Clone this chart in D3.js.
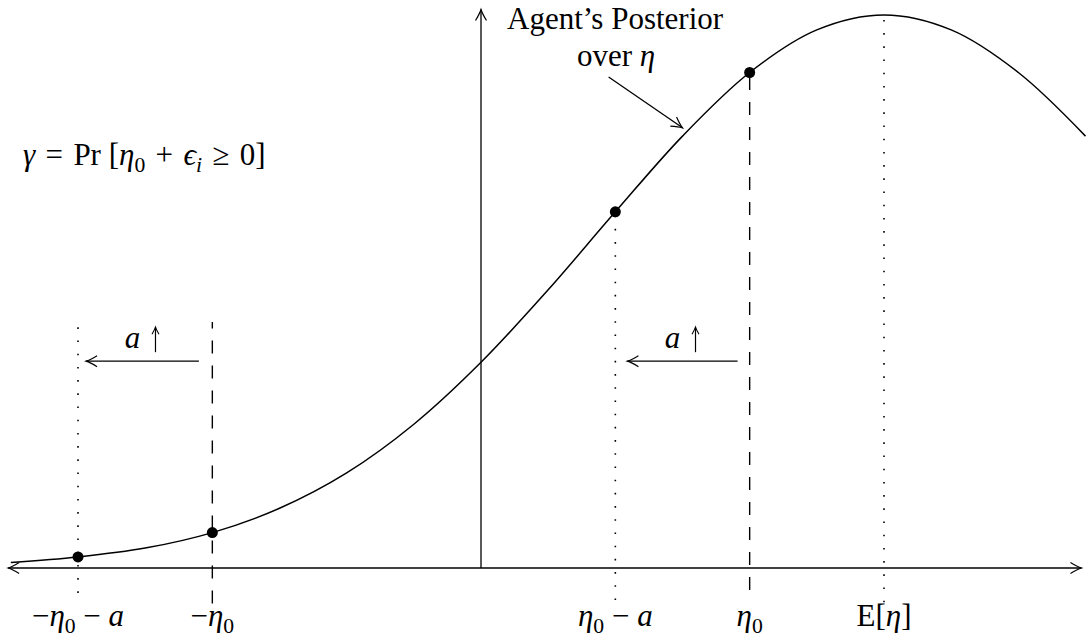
<!DOCTYPE html>
<html>
<head>
<meta charset="utf-8">
<script src="https://cdn.jsdelivr.net/npm/d3@7"></script>
<style>
  body { margin: 0; background: #fff; }
  text { font-family: "Liberation Serif", "DejaVu Serif", serif; fill: #000; white-space: pre; }
</style>
</head>
<body>
<svg id="chart" width="1086" height="642"></svg>
<script>
// curve samples (x in units of eta, y as share of the peak height)
var curveX = [-3.5, -3, -2.5, -2, -1.5, -1, -0.5, 0, 0.5, 1, 1.5, 2, 2.5, 3, 3.5, 4, 4.5];
var curveY = [0.01, 0.02, 0.036, 0.064, 0.108, 0.172, 0.26, 0.372, 0.503, 0.644, 0.781, 0.896, 0.973, 1.0, 0.973, 0.896, 0.781];

// the four marked points on the curve
var pointX = [-3, -2, 1, 2];
var pointY = [0.02, 0.064, 0.644, 0.896];

// vertical guide lines: x, bottom, top, style
var guideX = [-3, -2, 1, 2, 3];
var guideBottom = [-0.045, -0.064, -0.058, -0.04, -0.062];
var guideTop = [0.44, 0.445, 0.64, 0.89, 0.995];
var guideStyle = ["dot", "dash", "dot", "dash", "dot"];

// shift arrows "a ↑": from x, to x, at height
var shiftFrom = [-2.1, 1.91];
var shiftTo = [-2.94, 1.09];
var shiftY = 0.374;

// tick labels under the axis
var tickX = [-3, -2, 1, 2, 3];
var tickLabels = [
  [{t: "\u2212"}, {t: "\u03b7", it: 1}, {t: "0", sub: 1}, {t: " \u2212 "}, {t: "a", it: 1}],
  [{t: "\u2212"}, {t: "\u03b7", it: 1}, {t: "0", sub: 1}],
  [{t: "\u03b7", it: 1}, {t: "0", sub: 1}, {t: " \u2212 "}, {t: "a", it: 1}],
  [{t: "\u03b7", it: 1}, {t: "0", sub: 1}],
  [{t: "E["}, {t: "\u03b7", it: 1}, {t: "]"}]
];

var svg = d3.select("#chart");
var x = d3.scaleLinear().domain([-3, 3]).range([78, 884]);
var y = d3.scaleLinear().domain([0, 1]).range([568, 15]);

// arrowheads (open, latex style)
var defs = svg.append("defs");
defs.append("marker")
    .attr("id", "head")
    .attr("viewBox", "-12 -7 14 14")
    .attr("refX", 0).attr("refY", 0)
    .attr("markerWidth", 14).attr("markerHeight", 14)
    .attr("markerUnits", "userSpaceOnUse")
    .attr("orient", "auto")
    .append("path")
    .attr("d", "M-11,-5.5 Q-4,-1.2 0,0 Q-4,1.2 -11,5.5")
    .attr("fill", "none")
    .attr("stroke", "#000")
    .attr("stroke-width", 1.2);
defs.append("marker")
    .attr("id", "small")
    .attr("viewBox", "-8 -5 10 10")
    .attr("refX", 0).attr("refY", 0)
    .attr("markerWidth", 10).attr("markerHeight", 10)
    .attr("markerUnits", "userSpaceOnUse")
    .attr("orient", "auto")
    .append("path")
    .attr("d", "M-7,-3.5 Q-2.5,-0.8 0,0 Q-2.5,0.8 -7,3.5")
    .attr("fill", "none")
    .attr("stroke", "#000")
    .attr("stroke-width", 1.1);

function mathText(px, py, parts, size, anchor){
    var t = svg.append("text")
        .attr("x", px).attr("y", py)
        .attr("font-size", size)
        .attr("text-anchor", anchor || "middle");
    var shift = 0;
    parts.forEach(function(p){
        var s = t.append("tspan").text(p.t);
        var target = p.sub ? size * 0.22 : 0;
        if (target !== shift) { s.attr("dy", target - shift); shift = target; }
        if (p.sub) s.attr("font-size", size * 0.7);
        if (p.it) s.attr("font-style", "italic");
    });
    return t;
}

// guides
guideX.forEach(function(g, i){
    svg.append("line")
        .attr("x1", x(g)).attr("x2", x(g))
        .attr("y1", y(guideBottom[i])).attr("y2", y(guideTop[i]))
        .attr("stroke", "#000")
        .attr("stroke-width", guideStyle[i] == "dot" ? 1.6 : 1.4)
        .attr("stroke-dasharray", guideStyle[i] == "dot" ? "1.6,11.6" : "13,12");
});

// x axis with arrows at both ends
svg.append("line")
    .attr("x1", x(0)).attr("y1", y(0))
    .attr("x2", x(4.47)).attr("y2", y(0))
    .attr("stroke", "#000").attr("stroke-width", 1.3)
    .attr("marker-end", "url(#head)");
svg.append("line")
    .attr("x1", x(0)).attr("y1", y(0))
    .attr("x2", x(-3.52)).attr("y2", y(0))
    .attr("stroke", "#000").attr("stroke-width", 1.3)
    .attr("marker-end", "url(#head)");

// y axis
svg.append("line")
    .attr("x1", x(0)).attr("y1", y(0))
    .attr("x2", x(0)).attr("y2", y(1.01))
    .attr("stroke", "#000").attr("stroke-width", 1.3)
    .attr("marker-end", "url(#head)");

// posterior curve
var line = d3.line()
    .x(function(d, i){ return x(d); })
    .y(function(d, i){ return y(curveY[i]); })
    .curve(d3.curveCatmullRom);
svg.append("path")
    .attr("d", line(curveX))
    .attr("fill", "none")
    .attr("stroke", "#000")
    .attr("stroke-width", 1.5);

// points
pointX.forEach(function(p, i){
    svg.append("circle")
        .attr("cx", x(p)).attr("cy", y(pointY[i]))
        .attr("r", 5.5)
        .attr("fill", "#000");
});

// shift arrows with labels "a ↑"
shiftFrom.forEach(function(f, i){
    svg.append("line")
        .attr("x1", x(f)).attr("y1", y(shiftY))
        .attr("x2", x(shiftTo[i])).attr("y2", y(shiftY))
        .attr("stroke", "#000").attr("stroke-width", 1.3)
        .attr("marker-end", "url(#head)");
    var cx = (x(f) + x(shiftTo[i])) / 2;
    var base = y(shiftY) - 13;
    svg.append("text")
        .attr("x", cx - 10).attr("y", base)
        .attr("font-size", 31)
        .attr("font-style", "italic")
        .attr("text-anchor", "middle")
        .text("a");
    svg.append("line")
        .attr("x1", cx + 13).attr("y1", base + 4)
        .attr("x2", cx + 13).attr("y2", base - 21)
        .attr("stroke", "#000").attr("stroke-width", 1.2)
        .attr("marker-end", "url(#small)");
});

// annotation arrow
svg.append("line")
    .attr("x1", x(0.95)).attr("y1", y(0.888))
    .attr("x2", x(1.5)).attr("y2", y(0.796))
    .attr("stroke", "#000").attr("stroke-width", 1.3)
    .attr("marker-end", "url(#head)");

svg.append("text")
    .attr("x", 507).attr("y", 29)
    .attr("font-size", 31)
    .text("Agent\u2019s Posterior");
mathText(616, 66, [{t: "over "}, {t: "\u03b7", it: 1}], 31);

mathText(23, 165, [
    {t: "\u03b3", it: 1}, {t: " \u200a=\u200a Pr ["}, {t: "\u03b7", it: 1}, {t: "0", sub: 1},
    {t: " \u200a+\u200a "}, {t: "\u03f5", it: 1}, {t: "i", sub: 1, it: 1}, {t: " \u200a\u2265\u200a 0]"}
], 31, "start");

// tick labels
tickX.forEach(function(t, i){
    mathText(x(t), 626, tickLabels[i], 31);
});
</script>
</body>
</html>
